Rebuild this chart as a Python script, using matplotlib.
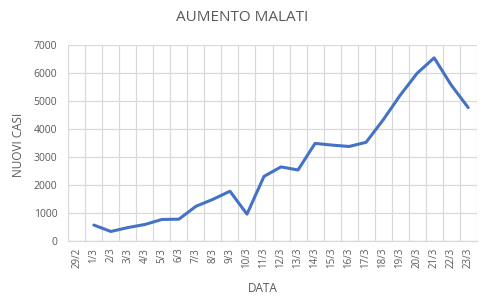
import matplotlib
matplotlib.use("Agg")
import matplotlib.pyplot as plt
import numpy as np

categories = ["29/2", "1/3", "2/3", "3/3", "4/3", "5/3", "6/3", "7/3", "8/3", "9/3",
              "10/3", "11/3", "12/3", "13/3", "14/3", "15/3", "16/3", "17/3", "18/3",
              "19/3", "20/3", "21/3", "22/3", "23/3"]
values = [np.nan, 560, 330, 470, 580, 760, 770, 1230, 1480, 1770,
          950, 2300, 2640, 2530, 3480, 3420, 3370, 3520, 4320,
          5200, 5990, 6540, 5570, 4760]
yticks = [0, 1000, 2000, 3000, 4000, 5000, 6000, 7000]

plt.rcParams['font.family'] = ['Open Sans', 'DejaVu Sans']
W, H = 486, 304
fig = plt.figure(figsize=(W / 100, H / 100), dpi=100)
ax = fig.add_axes([68.3 / W, 1 - 240.7 / H, (476.7 - 68.3) / W, (240.7 - 45) / H])

x = np.arange(len(categories))
ax.plot(x, values, color="#4472C4", linewidth=2.2, solid_capstyle="round",
        solid_joinstyle="round", zorder=3)

ax.set_xlim(-0.5, len(categories) - 0.5)
ax.set_ylim(0, 7000)
ax.set_yticks(yticks)
ax.set_yticklabels([str(v) for v in yticks])
ax.set_xticks(x)
ax.set_xticklabels(categories, rotation=90)
ax.set_xticks(np.arange(-0.5, len(categories), 1), minor=True)

grid_c = "#d9d9d9"
ax.grid(axis="y", which="major", color=grid_c, linewidth=0.9)
ax.grid(axis="x", which="minor", color=grid_c, linewidth=0.9)
ax.grid(axis="x", which="major", visible=False)
for s in ["left", "right", "top"]:
    ax.spines[s].set_visible(False)
ax.spines["bottom"].set_color(grid_c)
ax.spines["bottom"].set_linewidth(0.9)
ax.set_axisbelow(True)

ax.tick_params(axis="both", which="both", length=0, colors="#595959")
ax.tick_params(axis="x", pad=5, labelsize=7)
ax.tick_params(axis="y", pad=8, labelsize=7.5)

fig.text(262.5 / W, 1 - 289 / H, "DATA", ha="center", va="center", color="#595959", fontsize=8.5)
fig.text(18 / W, 1 - 144.5 / H, "NUOVI CASI", ha="center", va="center", rotation=90,
         color="#595959", fontsize=8.5)
fig.text(242 / W, 1 - 17.5 / H, "AUMENTO MALATI", ha="center", va="center",
         color="#595959", fontsize=11)

fig.savefig("out.png", dpi=100)
